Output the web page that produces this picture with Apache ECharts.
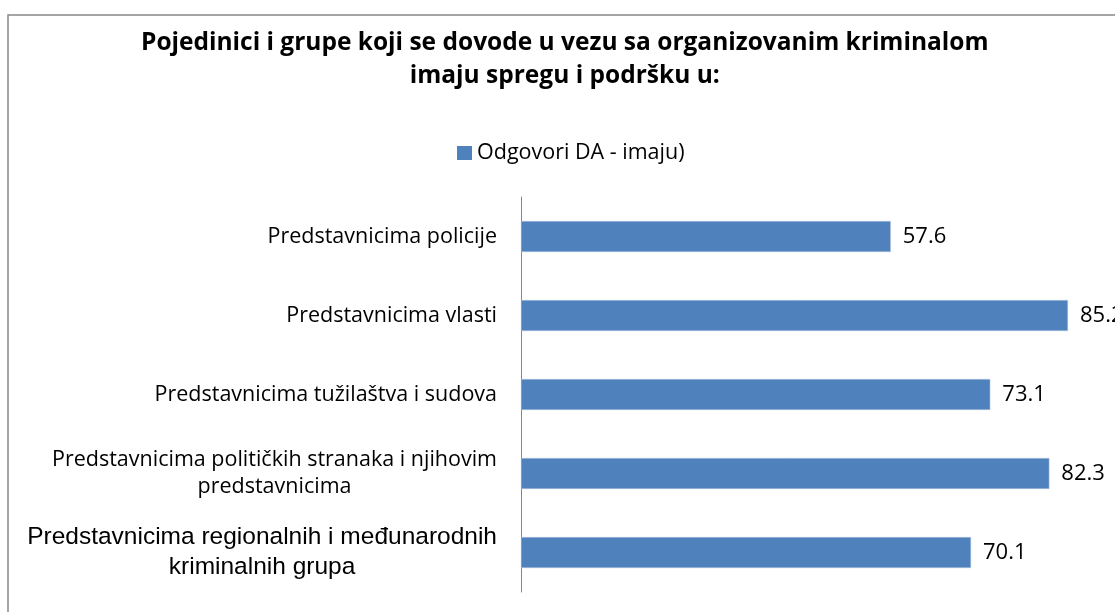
<!DOCTYPE html>
<html>
<head>
<meta charset="utf-8">
<script src="https://cdn.jsdelivr.net/npm/echarts@6/dist/echarts.min.js"></script>
<style>
  html, body { margin: 0; padding: 0; background: #fff; }
  #chart { width: 1115px; height: 612px; }
</style>
</head>
<body>
<div id="chart"></div>
<script>
// kategorije (odozgo prema dolje)
var categories = [
    'Predstavnicima policije',
    'Predstavnicima vlasti',
    'Predstavnicima tužilaštva i sudova',
    'Predstavnicima političkih stranaka i njihovim\npredstavnicima',
    'Predstavnicima regionalnih i međunarodnih\nkriminalnih grupa'
];
// odgovori DA (%)
var values = [57.6, 85.2, 73.1, 82.3, 70.1];
var seriesName = 'Odgovori DA - imaju)';
var titleLines = [
    'Pojedinici i grupe koji se dovode u vezu sa organizovanim kriminalom',
    'imaju spregu i podršku u:'
];

var chart = echarts.init(document.getElementById('chart'));

var option = {
    backgroundColor: '#fff',
    animation: false,
    title: {
        text: titleLines.map(function (s) { return '{t|' + s + '}'; }).join('\n'),
        left: 136,
        top: 22,
        textStyle: {
            rich: {
                t: {
                    fontFamily: 'Open Sans',
                    fontSize: 24.5,
                    fontWeight: 'bold',
                    color: '#000',
                    lineHeight: 33,
                    align: 'center'
                }
            }
        }
    },
    legend: {
        data: [seriesName],
        left: 452,
        top: 137,
        itemWidth: 15,
        itemHeight: 14,
        itemGap: 6,
        icon: 'rect',
        itemStyle: { borderWidth: 0 },
        textStyle: { fontFamily: 'Open Sans', fontSize: 21.5, color: '#000' }
    },
    graphic: [{
        type: 'rect',
        shape: { x: 8, y: 15, width: 1300, height: 800 },
        style: { fill: 'none', stroke: '#888', lineWidth: 1.5 },
        silent: true
    }],
    grid: {
        left: 521,
        top: 197,
        width: 642,
        height: 395,
        containLabel: false,
        outerBoundsMode: 'none'
    },
    xAxis: {
        type: 'value',
        min: 0,
        max: 100,
        show: false,
        splitLine: { show: false }
    },
    yAxis: {
        type: 'category',
        inverse: true,
        data: categories,
        axisLine: { show: true, lineStyle: { color: '#868686', width: 1 } },
        axisTick: { show: false },
        axisLabel: {
            margin: 24,
            formatter: function (v, i) {
                var key = i === categories.length - 1 ? 'b' : 'a';
                return v.split('\n').map(function (s) {
                    return '{' + key + '|' + s + '}';
                }).join('\n');
            },
            rich: {
                a: { fontFamily: 'Open Sans', fontSize: 21.5, color: '#000', lineHeight: 27, align: 'center' },
                b: { fontFamily: 'Liberation Sans', fontSize: 24.5, color: '#000', lineHeight: 30, align: 'center' }
            }
        }
    },
    series: [{
        name: seriesName,
        type: 'bar',
        data: values,
        barWidth: 31,
        itemStyle: { color: '#4f81bd', borderColor: '#b9cde5', borderWidth: 0.5 },
        label: {
            show: true,
            position: 'right',
            distance: 12,
            fontFamily: 'Open Sans',
            fontSize: 22,
            color: '#000',
            formatter: function (p) { return p.value.toFixed(1); }
        }
    }]
};

chart.setOption(option);
</script>
</body>
</html>
